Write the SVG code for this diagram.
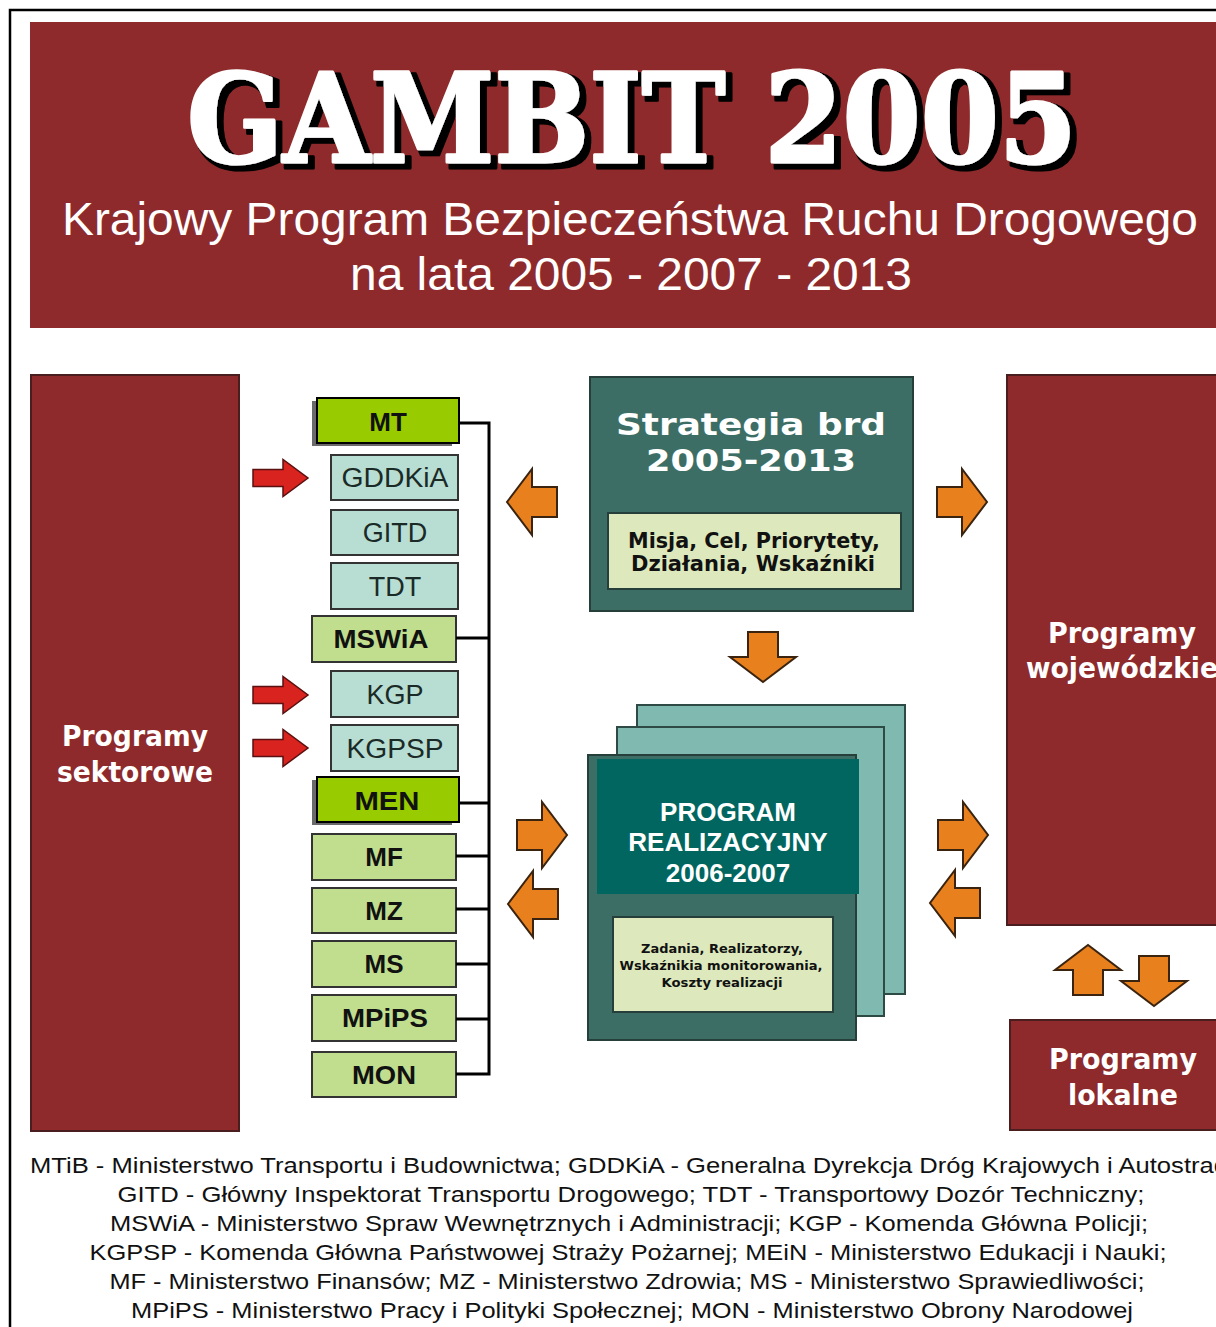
<svg xmlns="http://www.w3.org/2000/svg" width="1216" height="1327" viewBox="0 0 1216 1327">
<defs>
<style>
.red{fill:#8E2A2B}
.redbox{fill:#8E2A2B;stroke:#4A1E1E;stroke-width:2}
.wt{fill:#FFFFFF;font-family:"DejaVu Sans",sans-serif;font-weight:bold;text-anchor:middle}
.teal{fill:#B8DDD3;stroke:#333;stroke-width:2}
.lg{fill:#C0DE8E;stroke:#333;stroke-width:2}
.bg{fill:#99CC00;stroke:#000;stroke-width:2}
.shadow{fill:#6A6A6A}
.mtxt{font-family:"Liberation Sans",Arial,sans-serif;font-size:26px;font-weight:bold;text-anchor:middle;fill:#111}
.ttxt{font-family:"Liberation Sans",Arial,sans-serif;font-size:27px;text-anchor:middle;fill:#1a2a26}
.or{fill:#E8801E;stroke:#3A2410;stroke-width:2;stroke-linejoin:miter}
.rd{fill:#D9231F;stroke:#5A1010;stroke-width:1.5}
.conn{fill:none;stroke:#000;stroke-width:3}
.foot{font-family:"Liberation Sans",Arial,sans-serif;font-size:22px;fill:#111;text-anchor:middle}
.dteal{fill:#3D6E66;stroke:#263F3A;stroke-width:2}
.pale{fill:#DDE9BC;stroke:#263F3A;stroke-width:2}
.btxt{font-family:"DejaVu Sans",sans-serif;font-weight:bold;fill:#111;text-anchor:middle}
</style>
<filter id="drop" x="-5%" y="-20%" width="115%" height="150%">
<feMorphology in="SourceAlpha" operator="dilate" radius="1.5" result="d"/>
<feOffset in="d" dx="5" dy="4" result="o"/>
<feFlood flood-color="#000"/>
<feComposite in2="o" operator="in" result="s"/>
<feMerge><feMergeNode in="s"/><feMergeNode in="SourceGraphic"/></feMerge>
</filter>
<path id="arrR" d="M-25,-15 L0,-15 L0,-33 L25,0 L0,33 L0,15 L-25,15 Z"/>
<path id="arrRed" d="M-27,-8.5 L3,-8.5 L3,-18.5 L28,0 L3,18.5 L3,8.5 L-27,8.5 Z"/>
</defs>
<rect width="1216" height="1327" fill="#FFFFFF"/>
<path d="M10,1327 L10,10 L1216,10" fill="none" stroke="#000" stroke-width="2.5"/>

<g id="header">
<rect class="red" x="30" y="22" width="1186" height="306"/>
<text x="632" y="162" font-family="'DejaVu Serif',serif" font-weight="bold" font-size="124" fill="#FFFFFF" stroke="#FFFFFF" stroke-width="3" stroke-linejoin="round" text-anchor="middle" textLength="890" lengthAdjust="spacingAndGlyphs" filter="url(#drop)">GAMBIT 2005</text>
<text x="630" y="235" font-family="'Liberation Sans',Arial,sans-serif" font-size="47" fill="#FFFFFF" text-anchor="middle" textLength="1136" lengthAdjust="spacingAndGlyphs">Krajowy Program Bezpieczeństwa Ruchu Drogowego</text>
<text x="631" y="290" font-family="'Liberation Sans',Arial,sans-serif" font-size="47" fill="#FFFFFF" text-anchor="middle" textLength="562" lengthAdjust="spacingAndGlyphs">na lata 2005 - 2007 - 2013</text>
</g>

<g id="programy-sektorowe">
<rect class="redbox" x="31" y="375" width="208" height="756"/>
<text class="wt" x="135" y="746" font-size="29" textLength="146" lengthAdjust="spacingAndGlyphs">Programy</text>
<text class="wt" x="135" y="782" font-size="29" textLength="156" lengthAdjust="spacingAndGlyphs">sektorowe</text>
</g>

<g id="programy-wojewodzkie">
<rect class="redbox" x="1007" y="375" width="212" height="550"/>
<text class="wt" x="1122" y="643" font-size="29" textLength="148" lengthAdjust="spacingAndGlyphs">Programy</text>
<text class="wt" x="1122" y="678" font-size="29" textLength="192" lengthAdjust="spacingAndGlyphs">wojewódzkie</text>
</g>

<g id="programy-lokalne">
<rect class="redbox" x="1010" y="1020" width="209" height="110"/>
<text class="wt" x="1123" y="1069" font-size="29" textLength="148" lengthAdjust="spacingAndGlyphs">Programy</text>
<text class="wt" x="1123" y="1105" font-size="29" textLength="110" lengthAdjust="spacingAndGlyphs">lokalne</text>
</g>

<g id="strategia">
<rect class="dteal" x="590" y="377" width="323" height="234"/>
<text class="wt" x="751" y="435" font-size="31" textLength="270" lengthAdjust="spacingAndGlyphs">Strategia brd</text>
<text class="wt" x="751" y="471" font-size="31" textLength="210" lengthAdjust="spacingAndGlyphs">2005-2013</text>
<rect class="pale" x="608" y="513" width="293" height="76"/>
<text class="btxt" x="754" y="548" font-size="21" textLength="252" lengthAdjust="spacingAndGlyphs">Misja, Cel, Priorytety,</text>
<text class="btxt" x="753" y="571" font-size="21" textLength="244" lengthAdjust="spacingAndGlyphs">Działania, Wskaźniki</text>
</g>

<g id="program-realizacyjny">
<rect x="637" y="705" width="268" height="289" fill="#80B9AF" stroke="#2E4A45" stroke-width="2"/>
<rect x="617" y="727" width="267" height="289" fill="#80B9AF" stroke="#2E4A45" stroke-width="2"/>
<rect class="dteal" x="588" y="755" width="268" height="285"/>
<rect x="597" y="759" width="262" height="135" fill="#00665F"/>
<text x="728" y="821" font-family="'Liberation Sans',Arial,sans-serif" font-weight="bold" font-size="26" fill="#FFFFFF" text-anchor="middle">PROGRAM</text>
<text x="728" y="851" font-family="'Liberation Sans',Arial,sans-serif" font-weight="bold" font-size="26" fill="#FFFFFF" text-anchor="middle">REALIZACYJNY</text>
<text x="728" y="882" font-family="'Liberation Sans',Arial,sans-serif" font-weight="bold" font-size="26" fill="#FFFFFF" text-anchor="middle">2006-2007</text>
<rect class="pale" x="613" y="917" width="220" height="95"/>
<text class="btxt" x="722" y="953" font-size="12.5" textLength="162" lengthAdjust="spacingAndGlyphs">Zadania, Realizatorzy,</text>
<text class="btxt" x="721" y="970" font-size="12.5" textLength="203" lengthAdjust="spacingAndGlyphs">Wskaźnikia monitorowania,</text>
<text class="btxt" x="722" y="987" font-size="12.5" textLength="121" lengthAdjust="spacingAndGlyphs">Koszty realizacji</text>
</g>

<g id="mt"><rect class="shadow" x="312" y="401" width="140" height="45"/><rect class="bg" x="317" y="398" width="142" height="45"/><text class="mtxt" x="388" y="431" font-size="28">MT</text></g>
<g id="gddkia"><rect class="teal" x="331" y="455" width="127" height="45"/><text class="ttxt" x="395" y="487" textLength="107" lengthAdjust="spacingAndGlyphs">GDDKiA</text></g>
<g id="gitd"><rect class="teal" x="331" y="510" width="127" height="45"/><text class="ttxt" x="395" y="542">GITD</text></g>
<g id="tdt"><rect class="teal" x="331" y="563" width="127" height="46"/><text class="ttxt" x="395" y="596">TDT</text></g>
<g id="mswia"><rect class="lg" x="312" y="616" width="144" height="46"/><text class="mtxt" x="381" y="648" textLength="95" lengthAdjust="spacingAndGlyphs">MSWiA</text></g>
<g id="kgp"><rect class="teal" x="331" y="671" width="127" height="46"/><text class="ttxt" x="395" y="704">KGP</text></g>
<g id="kgpsp"><rect class="teal" x="331" y="725" width="127" height="46"/><text class="ttxt" x="395" y="758" textLength="97" lengthAdjust="spacingAndGlyphs">KGPSP</text></g>
<g id="men"><rect class="shadow" x="312" y="780" width="140" height="45"/><rect class="bg" x="317" y="777" width="142" height="45"/><text class="mtxt" x="387" y="810" font-size="28" textLength="65" lengthAdjust="spacingAndGlyphs">MEN</text></g>
<g id="mf"><rect class="lg" x="312" y="834" width="144" height="46"/><text class="mtxt" x="384" y="866">MF</text></g>
<g id="mz"><rect class="lg" x="312" y="888" width="144" height="45"/><text class="mtxt" x="384" y="920">MZ</text></g>
<g id="ms"><rect class="lg" x="312" y="941" width="144" height="46"/><text class="mtxt" x="384" y="973">MS</text></g>
<g id="mpips"><rect class="lg" x="312" y="995" width="144" height="46"/><text class="mtxt" x="385" y="1027" textLength="86" lengthAdjust="spacingAndGlyphs">MPiPS</text></g>
<g id="mon"><rect class="lg" x="312" y="1052" width="144" height="45"/><text class="mtxt" x="384" y="1084" textLength="64" lengthAdjust="spacingAndGlyphs">MON</text></g>

<g id="connectors">
<path class="conn" d="M459,423 H489 V1074 H456"/>
<path class="conn" d="M456,638 H489 M459,803 H489 M456,856 H489 M456,909 H489 M456,964 H489 M456,1019 H489"/>
<use href="#arrRed" class="rd" x="280" y="478"/>
<use href="#arrRed" class="rd" x="280" y="695"/>
<use href="#arrRed" class="rd" x="280" y="748"/>
<use href="#arrR" class="or" transform="translate(532,502) scale(-1,1)"/>
<use href="#arrR" class="or" transform="translate(962,502)"/>
<use href="#arrR" class="or" transform="translate(763,657) rotate(90)"/>
<use href="#arrR" class="or" transform="translate(542,835)"/>
<use href="#arrR" class="or" transform="translate(533,904) scale(-1,1)"/>
<use href="#arrR" class="or" transform="translate(963,835)"/>
<use href="#arrR" class="or" transform="translate(955,903) scale(-1,1)"/>
<use href="#arrR" class="or" transform="translate(1088,970) rotate(-90)"/>
<use href="#arrR" class="or" transform="translate(1154,981) rotate(90)"/>
</g>

<g id="legend">
<text class="foot" x="629" y="1173" textLength="1198" lengthAdjust="spacingAndGlyphs">MTiB - Ministerstwo Transportu i Budownictwa; GDDKiA - Generalna Dyrekcja Dróg Krajowych i Autostrad</text>
<text class="foot" x="631" y="1202" textLength="1027" lengthAdjust="spacingAndGlyphs">GITD - Główny Inspektorat Transportu Drogowego; TDT - Transportowy Dozór Techniczny;</text>
<text class="foot" x="629" y="1231" textLength="1038" lengthAdjust="spacingAndGlyphs">MSWiA - Ministerstwo Spraw Wewnętrznych i Administracji; KGP - Komenda Główna Policji;</text>
<text class="foot" x="628" y="1260" textLength="1077" lengthAdjust="spacingAndGlyphs">KGPSP - Komenda Główna Państwowej Straży Pożarnej; MEiN - Ministerstwo Edukacji i Nauki;</text>
<text class="foot" x="627" y="1289" textLength="1035" lengthAdjust="spacingAndGlyphs">MF - Ministerstwo Finansów; MZ - Ministerstwo Zdrowia; MS - Ministerstwo Sprawiedliwości;</text>
<text class="foot" x="632" y="1318" textLength="1002" lengthAdjust="spacingAndGlyphs">MPiPS - Ministerstwo Pracy i Polityki Społecznej; MON - Ministerstwo Obrony Narodowej</text>
</g>
</svg>
